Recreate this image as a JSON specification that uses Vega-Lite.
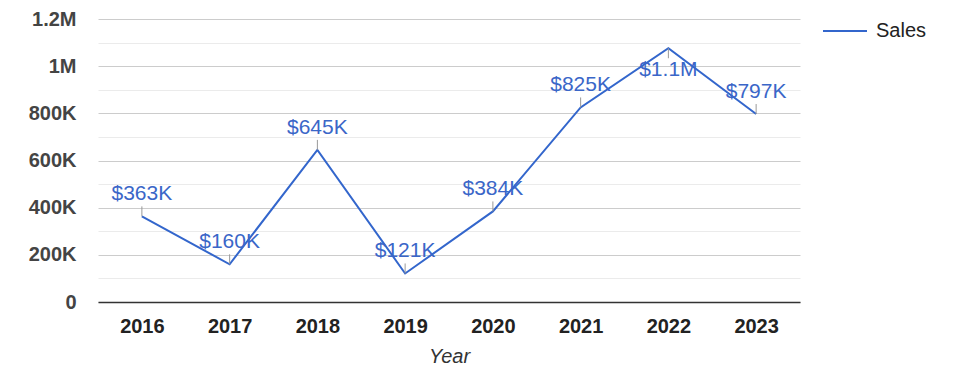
{
  "$schema": "https://vega.github.io/schema/vega-lite/v6.json",
  "autosize": "none",
  "width": 702,
  "height": 283,
  "padding": {"left": 98, "top": 19, "right": 175, "bottom": 76},
  "background": "white",
  "config": {
    "font": "Arial, Liberation Sans, sans-serif",
    "view": {"stroke": null}
  },
  "data": {
    "values": [
      {"Year": "2016", "Sales": 363000, "label": "$363K", "series": "Sales"},
      {"Year": "2017", "Sales": 160000, "label": "$160K", "series": "Sales"},
      {"Year": "2018", "Sales": 645000, "label": "$645K", "series": "Sales"},
      {"Year": "2019", "Sales": 121000, "label": "$121K", "series": "Sales"},
      {"Year": "2020", "Sales": 384000, "label": "$384K", "series": "Sales"},
      {"Year": "2021", "Sales": 825000, "label": "$825K", "series": "Sales"},
      {"Year": "2022", "Sales": 1076000, "label": "$1.1M", "series": "Sales"},
      {"Year": "2023", "Sales": 797000, "label": "$797K", "series": "Sales"}
    ]
  },
  "encoding": {
    "x": {
      "field": "Year", "type": "ordinal",
      "scale": {"type": "point", "padding": 0.5},
      "axis": {
        "labelAngle": 0, "labelFontSize": 20, "labelFontWeight": "bold",
        "labelColor": "#222222", "labelPadding": 14, "ticks": false,
        "domainColor": "#333333", "domainWidth": 1.5,
        "title": "Year", "titleFontSize": 20, "titleFontStyle": "italic", "titleFontWeight": "normal",
        "titleColor": "#333333", "titlePadding": 10
      }
    },
    "y": {
      "field": "Sales", "type": "quantitative",
      "scale": {"domain": [0, 1200000], "nice": false},
      "axis": {
        "values": [0, 100000, 200000, 300000, 400000, 500000, 600000, 700000, 800000, 900000, 1000000, 1100000, 1200000],
        "labelExpr": "datum.value % 200000 != 0 ? '' : datum.value == 0 ? '0' : datum.value >= 1000000 ? format(datum.value / 1000000, '~g') + 'M' : format(datum.value / 1000, '~g') + 'K'",
        "labelFontSize": 20, "labelFontWeight": "bold", "labelColor": "#444444",
        "labelPadding": 22, "ticks": false, "domain": false,
        "gridColor": {"condition": {"test": "datum.value % 200000 != 0", "value": "#ebebeb"}, "value": "#cccccc"},
        "title": null
      }
    }
  },
  "layer": [
    {
      "mark": {"type": "line", "strokeWidth": 2},
      "encoding": {
        "color": {
          "field": "series", "type": "nominal",
          "scale": {"range": ["#3366cc"]},
          "legend": {
            "title": null, "orient": "none", "legendX": 724, "legendY": -11,
            "symbolType": "stroke", "symbolSize": 1936, "symbolStrokeWidth": 2,
            "labelFontSize": 20, "labelColor": "#222222", "labelOffset": 8
          }
        }
      }
    },
    {
      "transform": [{"filter": "datum.Year != '2022'"}],
      "mark": {"type": "rule", "color": "#999999", "strokeWidth": 1, "y2Offset": -10},
      "encoding": {"y2": {"field": "Sales"}}
    },
    {
      "transform": [{"filter": "datum.Year != '2022'"}],
      "mark": {"type": "text", "fontSize": 21, "color": "#3a66c8", "dy": -22, "baseline": "middle"},
      "encoding": {"text": {"field": "label"}}
    },
    {
      "transform": [{"filter": "datum.Year == '2022'"}],
      "mark": {"type": "rule", "color": "#999999", "strokeWidth": 1, "y2Offset": 10},
      "encoding": {"y2": {"field": "Sales"}}
    },
    {
      "transform": [{"filter": "datum.Year == '2022'"}],
      "mark": {"type": "text", "fontSize": 21, "color": "#3a66c8", "dy": 22, "baseline": "middle"},
      "encoding": {"text": {"field": "label"}}
    }
  ]
}
